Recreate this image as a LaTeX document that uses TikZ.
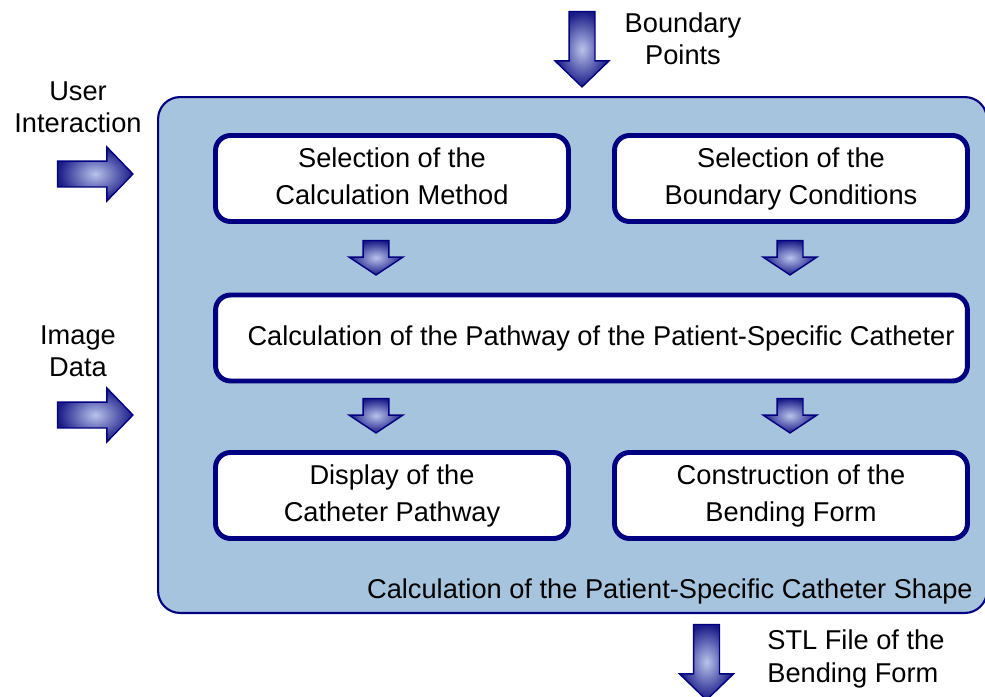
\documentclass[tikz,border=0pt]{standalone}
\usepackage{fontspec}
\setmainfont{Liberation Sans}
\usetikzlibrary{shapes.arrows, positioning}
\definecolor{framefill}{RGB}{166,196,221}
\definecolor{navyline}{RGB}{0,0,128}
\definecolor{arrowlight}{RGB}{185,195,235}
\definecolor{arrowdark}{RGB}{25,25,135}
\tikzset{
  frame/.style={
    rectangle, rounded corners=0.44cm,
    draw=navyline, line width=1.2pt, fill=framefill,
    minimum width=16.58cm, minimum height=10.32cm
  },
  stepbox/.style={
    rectangle, rounded corners=0.3cm,
    draw=navyline, line width=2.8pt, fill=white,
    minimum width=7.06cm, minimum height=1.72cm,
    align=center
  },
  blockarrow/.style={
    single arrow, draw=navyline, line width=0.8pt,
    inner sep=0.245cm, single arrow head extend=0.28cm,
    single arrow head indent=0pt, single arrow tip angle=92,
    minimum height=1.51cm, anchor=tail,
    inner color=arrowlight, outer color=arrowdark
  },
  smallarrow/.style={
    blockarrow, minimum height=0.67cm,
    single arrow tip angle=113, shape border rotate=270
  },
  caption/.style={align=center, inner sep=0pt, font=\fontsize{15.5}{18.4}\selectfont}
}

\begin{document}
\begin{tikzpicture}[x=0.02cm, y=-0.02cm, font=\fontsize{15.5}{20.8}\selectfont]
  \useasboundingbox (0,0) rectangle (985,697);

  \node[frame] (shape) at (572.5,355) {};
  \node[caption, anchor=east] (title) at (973,591)
    {Calculation of the Patient-Specific Catheter Shape};

  \node[stepbox] (method) at (392,178.5) {\strut Selection of the\\Calculation Method\strut};
  \node[stepbox] (conditions) at (791,178.5) {\strut Selection of the\\Boundary Conditions\strut};
  \node[stepbox, minimum width=15.04cm] (pathway) at (591.5,338)
    {\hspace{0.38cm}Calculation of the Pathway of the Patient-Specific Catheter};
  \node[stepbox] (display) at (392,495.5) {\strut Display of the\\Catheter Pathway\strut};
  \node[stepbox] (bending) at (791,495.5) {\strut Construction of the\\Bending Form\strut};

  % block arrows inside the frame
  \node[smallarrow] (methodout) at (376,239.75) {};
  \node[smallarrow] (conditionsout) at (790,239.75) {};
  \node[smallarrow] (displayin) at (376,397.75) {};
  \node[smallarrow] (bendingin) at (790,397.75) {};

  % inputs and output
  \node[blockarrow, shape border rotate=270] (pointsin) at (582,10.75) {};
  \node[caption] (points) at (683,38.5) {Boundary\\Points};
  \node[blockarrow] (userin) at (56.75,174) {};
  \node[caption] (user) at (78,107.5) {User\\Interaction};
  \node[blockarrow] (imagein) at (56.75,415) {};
  \node[caption] (image) at (78,351) {Image\\Data};
  \node[blockarrow, shape border rotate=270] (stlout) at (706.5,623.75) {};
  \node[caption, align=left, anchor=west] (stl) at (767,659) {STL File of the\\Bending Form};
\end{tikzpicture}
\end{document}
